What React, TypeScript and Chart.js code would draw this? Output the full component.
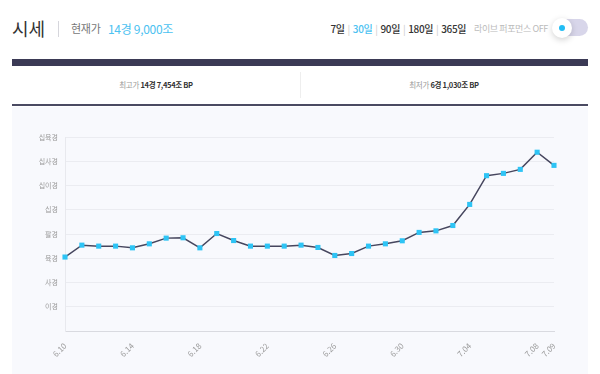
import React, { useEffect, useRef } from "react";
import { Chart, registerables } from "chart.js";

Chart.register(...registerables);

const dates = [
  "6.10", "6.11", "6.12", "6.13", "6.14", "6.15", "6.16", "6.17", "6.18", "6.19",
  "6.20", "6.21", "6.22", "6.23", "6.24", "6.25", "6.26", "6.27", "6.28", "6.29",
  "6.30", "7.01", "7.02", "7.03", "7.04", "7.05", "7.06", "7.07", "7.08", "7.09",
];
// 단위: 경
const prices = [
  6.10, 7.08, 7.0, 7.0, 6.86, 7.19, 7.66, 7.69, 6.86, 8.04,
  7.46, 7.0, 7.0, 7.0, 7.08, 6.89, 6.23, 6.39, 7.0, 7.19,
  7.44, 8.13, 8.26, 8.70, 10.44, 12.81, 13.0, 13.33, 14.745, 13.66,
];
const yTickLabels: Record<number, string> = {
  2: "이경", 4: "사경", 6: "육경", 8: "팔경", 10: "십경", 12: "십이경", 14: "십사경", 16: "십육경",
};
const periods = ["7일", "30일", "90일", "180일", "365일"];
const FONT = "'Noto Sans CJK KR', 'Noto Sans', sans-serif";

export default function App() {
  const ref = useRef<HTMLCanvasElement | null>(null);

  useEffect(() => {
    if (!ref.current) return;
    const chart = new Chart(ref.current, {
      type: "line",
      data: {
        labels: dates,
        datasets: [
          {
            data: prices,
            borderColor: "#46465e",
            borderWidth: 1.5,
            pointStyle: "rect",
            pointRadius: 3.6,
            pointBackgroundColor: "#2ec4f5",
            pointBorderColor: "#2ec4f5",
            pointBorderWidth: 0,
            tension: 0,
            fill: false,
          },
        ],
      },
      options: {
        animation: false,
        responsive: false,
        maintainAspectRatio: false,
        layout: { padding: { top: 30, right: 34, left: 0, bottom: 0 } },
        plugins: { legend: { display: false }, tooltip: { enabled: false } },
        scales: {
          x: {
            grid: { display: false },
            border: { display: true, color: "#d9dae0", width: 1 },
            ticks: {
              autoSkip: false,
              minRotation: 45,
              maxRotation: 45,
              color: "#9a9a9a",
              font: { family: FONT, size: 8 },
              padding: 2,
              callback: (_v: any, i: number) =>
                i % 4 === 0 || i === dates.length - 1 ? dates[i] : "",
            },
            afterFit: (s: any) => {
              s.height = 43;
            },
          },
          y: {
            min: 0,
            max: 16,
            grid: { color: "#ebecf1", drawTicks: false },
            border: { display: true, color: "#e8e9ee" },
            ticks: {
              stepSize: 2,
              color: "#999",
              font: { family: FONT, size: 7 },
              padding: 7,
              callback: (v: any) => yTickLabels[v as number] ?? "",
            },
            afterFit: (s: any) => {
              s.width = 53;
            },
          },
        },
      },
    });
    return () => chart.destroy();
  }, []);

  const abs = (l: number, t: number, extra: React.CSSProperties = {}): React.CSSProperties => ({
    position: "absolute",
    left: l,
    top: t,
    ...extra,
  });

  return (
    <div style={{ position: "absolute", left: 0, top: 0, width: 600, height: 374, background: "#fff", overflow: "hidden", fontFamily: FONT }}>
      <div style={abs(12, 14, { fontSize: 18, color: "#333", fontWeight: 400, lineHeight: "28px" })}>시세</div>
      <div style={abs(58, 21, { width: 1, height: 16, background: "#d6d6dc" })} />
      <div style={abs(71, 20, { fontSize: 11, color: "#777", lineHeight: "17px", letterSpacing: -0.3 })}>현재가</div>
      <div style={abs(108, 19, { fontSize: 12, color: "#4cc2f1", lineHeight: "19px", letterSpacing: -0.3 })}>14경 9,000조</div>

      <div style={abs(0, 20, { width: 466, textAlign: "right", fontSize: 10, lineHeight: "17px", color: "#333", whiteSpace: "nowrap", letterSpacing: -0.4 })}>
        {periods.map((p, i) => (
          <span key={p}>
            {i > 0 && <span style={{ color: "#ccc", margin: "0 3px" }}>|</span>}
            <span style={{ color: i === 1 ? "#4cc2f1" : "#333", fontWeight: 500 }}>{p}</span>
          </span>
        ))}
      </div>
      <div style={abs(474, 20, { fontSize: 9, lineHeight: "17px", color: "#bbb", whiteSpace: "nowrap", letterSpacing: -0.4 })}>라이브 퍼포먼스 OFF</div>
      <div style={abs(553, 19, { width: 35, height: 17, borderRadius: 9, background: "#d8d6ea" })} />
      <div style={abs(552, 18, { width: 20, height: 20, borderRadius: 10, background: "#fff", boxShadow: "0 2px 6px rgba(0,0,0,0.18)" })} />
      <div style={abs(559, 25, { width: 6, height: 6, borderRadius: 3, background: "#22bdf5" })} />

      <div style={abs(12, 59, { width: 576, height: 7, background: "#3b3a55" })} />
      <div style={abs(12, 66, { width: 288, height: 38, textAlign: "center", lineHeight: "38px", fontSize: 7.5, whiteSpace: "nowrap", letterSpacing: -0.3 })}>
        <span style={{ color: "#999" }}>최고가 </span>
        <span style={{ color: "#333", fontWeight: 700 }}>14경 7,454조 BP</span>
      </div>
      <div style={abs(300, 72, { width: 1, height: 26, background: "#eee" })} />
      <div style={abs(300, 66, { width: 288, height: 38, textAlign: "center", lineHeight: "38px", fontSize: 7.5, whiteSpace: "nowrap", letterSpacing: -0.3 })}>
        <span style={{ color: "#999" }}>최저가 </span>
        <span style={{ color: "#333", fontWeight: 700 }}>6경 1,030조 BP</span>
      </div>
      <div style={abs(12, 104, { width: 576, height: 2, background: "#4a4a62" })} />

      <div style={abs(12, 107, { width: 576, height: 267, background: "#f8f9fd" })}>
        <canvas ref={ref} width={576} height={267} style={{ display: "block", width: 576, height: 267 }} />
      </div>
    </div>
  );
}
